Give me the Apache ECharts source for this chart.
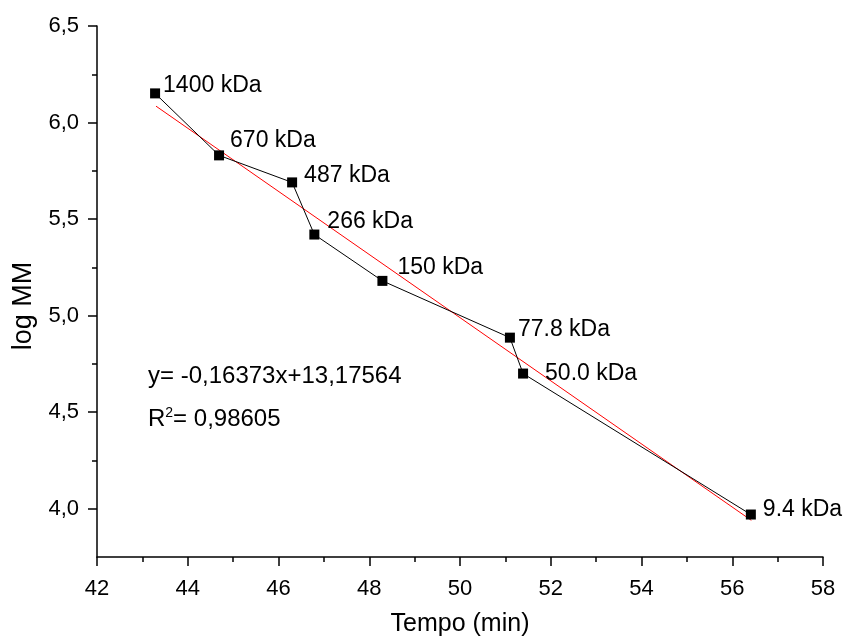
<!doctype html>
<html>
<head>
<meta charset="utf-8">
<title>log MM vs Tempo</title>
<script src="https://cdn.jsdelivr.net/npm/echarts@6/dist/echarts.min.js"></script>
<style>
  html, body { margin: 0; padding: 0; background: #fff; }
  #main { width: 845px; height: 642px; }
</style>
</head>
<body>
<div id="main"></div>
<script>
// data
var tempo = [43.28, 44.69, 46.30, 46.79, 48.29, 51.10, 51.39, 56.41];
var logMM = [6.151, 5.830, 5.690, 5.420, 5.180, 4.886, 4.700, 3.970];
var names = ['1400 kDa', '670 kDa', '487 kDa', '266 kDa', '150 kDa', '77.8 kDa', '50.0 kDa', '9.4 kDa'];
// ends of the red fitted line
var fitX = [43.3, 56.42];
var fitY = [6.085, 3.94];
var yMajor = [4.0, 4.5, 5.0, 5.5, 6.0, 6.5];
var yMinor = [4.25, 4.75, 5.25, 5.75, 6.25];

// where each label sits relative to its point
var labelShift = [[-2, -8], [1, -15], [2, -7], [3, -13], [5, -13], [-2, -8], [12, 0], [2, -5]];

var font = "'Liberation Sans', Arial, sans-serif";
var chart = echarts.init(document.getElementById('main'));

var points = tempo.map(function (t, i) {
    return {
        value: [t, logMM[i]],
        label: { show: true, formatter: names[i], position: 'right', offset: labelShift[i] }
    };
});

var axisLine = { show: true, lineStyle: { color: '#000', width: 1.5 } };

option = {
    animation: false,
    grid: { left: 97, right: 22, top: 26, bottom: 80 },
    xAxis: {
        type: 'value',
        min: 42, max: 58, interval: 2,
        name: 'Tempo (min)', nameLocation: 'middle', nameGap: 55,
        nameTextStyle: { color: '#000', fontSize: 25, fontFamily: font },
        axisLine: axisLine,
        axisTick: { show: true, length: 9, lineStyle: { color: '#000', width: 1.5 } },
        minorTick: { show: true, splitNumber: 2, length: 5, lineStyle: { color: '#000', width: 1.5 } },
        axisLabel: { color: '#000', fontSize: 22, fontFamily: font, margin: 21 },
        splitLine: { show: false }
    },
    yAxis: [{
        type: 'value',
        min: 3.75, max: 6.5,
        position: 'left',
        axisLine: axisLine,
        axisTick: { show: true, length: 9, customValues: yMajor, lineStyle: { color: '#000', width: 1.5 } },
        axisLabel: {
            color: '#000', fontSize: 22, fontFamily: font, margin: 18,
            customValues: yMajor,
            formatter: function (v) { return v.toFixed(1).replace('.', ','); }
        },
        splitLine: { show: false }
    }, {
        type: 'value',
        min: 3.75, max: 6.5,
        position: 'left',
        axisLine: { show: false },
        axisTick: { show: true, length: 5, customValues: yMinor, lineStyle: { color: '#000', width: 1.5 } },
        axisLabel: { show: false },
        splitLine: { show: false }
    }],
    series: [{
        type: 'line',
        data: points,
        symbol: 'rect',
        symbolSize: 10,
        itemStyle: { color: '#000' },
        lineStyle: { color: '#000', width: 1 },
        label: { color: '#000', fontSize: 23, fontFamily: font },
        z: 3
    }, {
        type: 'line',
        data: fitX.map(function (x, i) { return [x, fitY[i]]; }),
        showSymbol: false,
        lineStyle: { color: '#ff0000', width: 1 },
        z: 2
    }],
    graphic: [{
        type: 'text', x: 24, y: 306, rotation: Math.PI / 2,
        style: { text: 'log MM', fill: '#000', font: '27px ' + font, align: 'center', verticalAlign: 'middle' }
    }, {
        type: 'text', left: 148, top: 364,
        style: { text: 'y= -0,16373x+13,17564', fill: '#000', font: '24px ' + font }
    }, {
        type: 'text', left: 148, top: 406,
        style: {
            text: 'R{sup|2}= 0,98605',
            fill: '#000', font: '24px ' + font,
            rich: { sup: { fontSize: 14, verticalAlign: 'top', padding: [0, 0, 12, 0], fontFamily: font } }
        }
    }]
};

chart.setOption(option);
</script>
</body>
</html>
